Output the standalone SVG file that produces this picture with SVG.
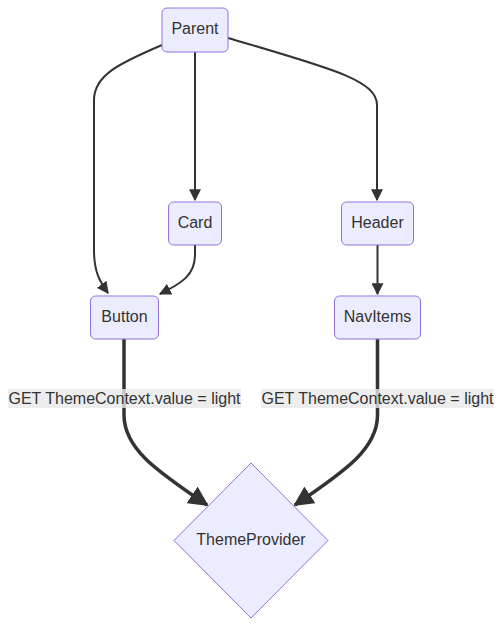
<svg xmlns="http://www.w3.org/2000/svg" width="502" height="626" viewBox="0 0 502 626">
<style>
.node rect,.node polygon{fill:#ECECFF;stroke:#9370DB;stroke-width:1px}
text{font-family:"Liberation Sans",Arial,sans-serif;font-size:16px;fill:#333;text-anchor:middle}
.e{fill:none;stroke:#333;stroke-width:2px}
.t{fill:none;stroke:#333;stroke-width:3.5px}
.lbl{fill:#e8e8e8;opacity:0.8}
</style>
<defs>
<marker id="a" markerUnits="userSpaceOnUse" markerWidth="12" markerHeight="12" viewBox="0 0 10 10" refX="9" refY="5" orient="auto"><path d="M0,0 L10,5 L0,10 z" fill="#333"/></marker>
<marker id="b" markerUnits="userSpaceOnUse" markerWidth="20" markerHeight="20" viewBox="0 0 10 10" refX="9" refY="5" orient="auto"><path d="M0,0 L10,5 L0,10 z" fill="#333"/></marker>
</defs>
<rect width="502" height="626" fill="#fff"/>
<g id="connectors">
<path class="e" d="M162,45 C120,63 94,75 94,100 L94,250 C94,272 100,282 108,293" marker-end="url(#a)"/>
<path class="e" d="M195,52 L195,200" marker-end="url(#a)"/>
<path class="e" d="M228,38 C330,68 377,80 377,105 L377,200" marker-end="url(#a)"/>
<path class="e" d="M195,245 L195,255 C195,275 182,283 160,294" marker-end="url(#a)"/>
<path class="e" d="M377.5,245 L377.5,294" marker-end="url(#a)"/>
<path class="t" d="M124,339 L124,415 C124,448 155,470 207,505" marker-end="url(#b)"/>
<path class="t" d="M377.5,339 L377.5,415 C377.5,448 347,470 295,505" marker-end="url(#b)"/>
</g>
<g id="label-button">
<rect class="lbl" x="8" y="389" width="233" height="19"/>
<text x="124.5" y="403.5">GET ThemeContext.value = light</text>
</g>
<g id="label-navitems">
<rect class="lbl" x="261" y="389" width="233" height="19"/>
<text x="377.5" y="403.5">GET ThemeContext.value = light</text>
</g>
<g id="Parent" class="node"><rect x="162" y="8" width="66" height="44" rx="5"/><text x="195" y="33.5">Parent</text></g>
<g id="Card" class="node"><rect x="168.5" y="202" width="53" height="43" rx="5"/><text x="195" y="227.5">Card</text></g>
<g id="Header" class="node"><rect x="341.5" y="202" width="72" height="43" rx="5"/><text x="377.5" y="227.5">Header</text></g>
<g id="Button" class="node"><rect x="90.5" y="296" width="68" height="43" rx="5"/><text x="124.5" y="321.5">Button</text></g>
<g id="NavItems" class="node"><rect x="334.5" y="296" width="86" height="43" rx="5"/><text x="377.5" y="321.5">NavItems</text></g>
<g id="ThemeProvider" class="node"><polygon points="251,463 328,540.5 251,618 174,540.5"/><text x="251" y="544.5">ThemeProvider</text></g>
</svg>
